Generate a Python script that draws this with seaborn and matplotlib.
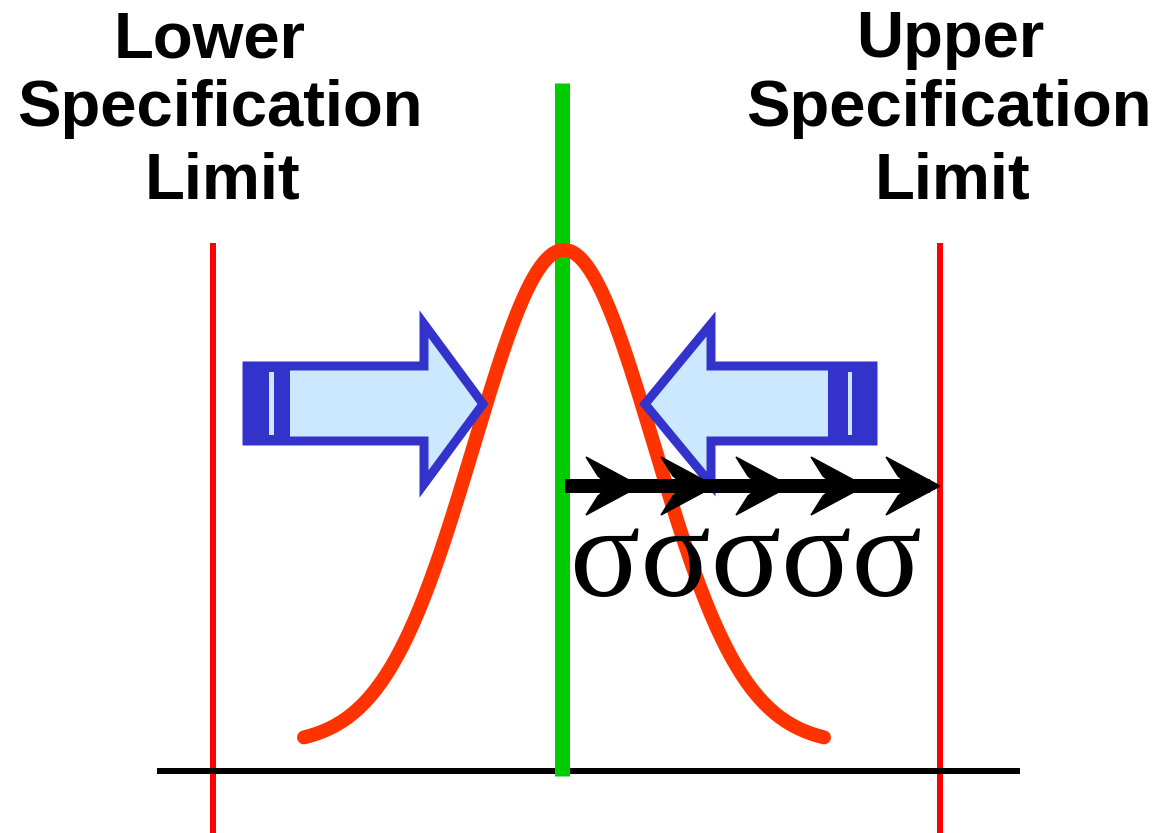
import numpy as np
import matplotlib
matplotlib.use("Agg")
import matplotlib.pyplot as plt
import seaborn as sns
from matplotlib.patches import Polygon, Rectangle

# diagram values (pixel space of a 1163x833 canvas, y grows downward)
lsl_x = 213
usl_x = 940
mean_x = 564
sigma_px = 90
peak_y = 250
base_y = 745
tail_halfwidth = 260
n_sigma_steps = 5
step_px = 75

lower_lines = ["Lower", "Specification", "Limit"]
upper_lines = ["Upper", "Specification", "Limit"]
label_baselines = [57, 126, 198]
lower_centers = [210, 220, 222]
upper_centers = [950, 949, 952]

W, H = 1163, 833
PT = 0.72  # pixels -> points at dpi 100

sns.set_theme(style="white")
fig = plt.figure(figsize=(W / 100, H / 100), dpi=100)
ax = fig.add_axes([0, 0, 1, 1])
ax.set_xlim(0, W)
ax.set_ylim(H, 0)
ax.axis("off")

# spec limit lines and baseline
ax.plot([lsl_x, lsl_x], [243, H], color="#ff0000", lw=6 * PT, solid_capstyle="butt")
ax.plot([usl_x, usl_x], [243, H], color="#ff0000", lw=6 * PT, solid_capstyle="butt")
ax.plot([157, 1020], [771, 771], color="black", lw=6 * PT, solid_capstyle="butt", zorder=2)
ax.plot([mean_x - 2, mean_x - 2], [83, 776], color="#00cc00", lw=15 * PT,
        solid_capstyle="butt", zorder=3)

# normal curve
xs = np.linspace(mean_x - tail_halfwidth, mean_x + tail_halfwidth, 300)
ys = base_y - (base_y - peak_y) * np.exp(-(xs - mean_x) ** 2 / (2 * sigma_px ** 2))
sns.lineplot(x=xs, y=ys, ax=ax, color="#ff3300", linewidth=14 * PT, sort=False,
             zorder=4, solid_capstyle="round")

# blue squeeze arrows
fill_c = "#cce8ff"
edge_c = "#3333cc"


def squeeze_arrow(x_back, x_head, x_tip, band_end, stripe):
    pts = [(x_back, 366), (x_head, 366), (x_head, 324), (x_tip, 404),
           (x_head, 484), (x_head, 441), (x_back, 441)]
    ax.add_patch(Polygon(pts, closed=True, facecolor=fill_c, edgecolor=edge_c,
                         lw=9 * PT, joinstyle="miter", zorder=5))
    ax.add_patch(Rectangle((min(x_back, band_end) - 4, 362), abs(band_end - x_back) + 4, 83,
                           facecolor=edge_c, edgecolor="none", zorder=6))
    ax.add_patch(Rectangle((stripe[0], 372), stripe[1] - stripe[0], 63,
                           facecolor=fill_c, edgecolor="none", zorder=7))


squeeze_arrow(247, 424, 483, 290, (269, 274))
squeeze_arrow(873, 711, 645, 832, (848, 852))

# sigma steps arrow
line_y = 486
ax.plot([565, usl_x - 10], [line_y, line_y], color="black", lw=14 * PT,
        solid_capstyle="butt", zorder=8)
for k in range(1, n_sigma_steps + 1):
    xt = 565 + k * step_px
    head = [(xt, line_y), (xt - 54, line_y - 29), (xt - 42, line_y - 10),
            (xt - 30, line_y), (xt - 42, line_y + 10), (xt - 54, line_y + 29)]
    ax.add_patch(Polygon(head, closed=True, facecolor="black", edgecolor="black",
                         lw=1, zorder=9))

ax.text(570, 596, "\u03c3" * n_sigma_steps, family="Liberation Serif", fontsize=94,
        color="black", ha="left", va="baseline", zorder=10)

# spec limit labels
for txt, cx, by in zip(lower_lines, lower_centers, label_baselines):
    ax.text(cx, by, txt, family="Liberation Sans", fontweight="bold", fontsize=47,
            ha="center", va="baseline", color="black")
for txt, cx, by in zip(upper_lines, upper_centers, label_baselines):
    ax.text(cx, by, txt, family="Liberation Sans", fontweight="bold", fontsize=47,
            ha="center", va="baseline", color="black")

fig.savefig("out.png", dpi=100, facecolor="white")
